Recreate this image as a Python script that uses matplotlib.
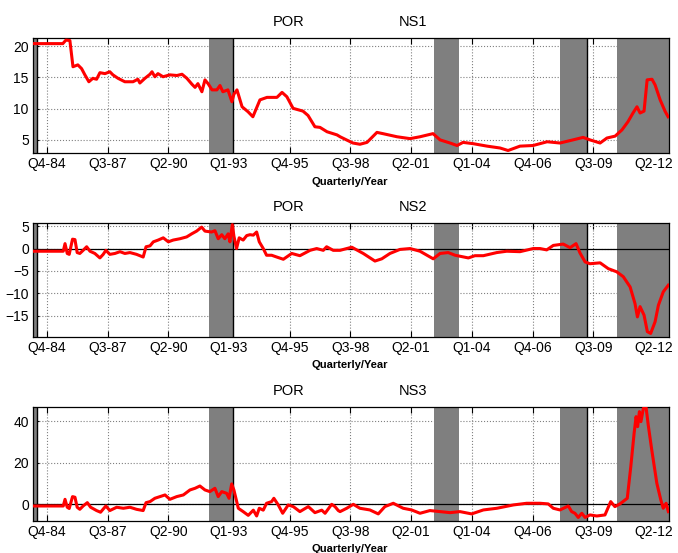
import matplotlib
matplotlib.use('Agg')
import matplotlib.pyplot as plt

plt.rcParams['font.family'] = ['Liberation Sans', 'DejaVu Sans']

# decimal-year dates and values
ns1_t = [1984.12, 1985.47, 1985.61, 1985.79, 1985.93, 1986.15, 1986.32, 1986.47, 1986.65, 1986.83,
         1987.00, 1987.15, 1987.38, 1987.60, 1987.74, 1987.97, 1988.28, 1988.65, 1988.87, 1988.96,
         1989.19, 1989.42, 1989.51, 1989.64, 1989.78, 1990.01, 1990.32, 1990.64, 1990.87, 1991.09,
         1991.32, 1991.46, 1991.59, 1991.77, 1991.91, 1992.05, 1992.23, 1992.45, 1992.59, 1992.72,
         1992.95, 1993.13, 1993.22, 1993.36, 1993.59, 1993.86, 1994.08, 1994.40, 1994.72, 1995.17,
         1995.40, 1995.62, 1995.90, 1996.35, 1996.58, 1996.89, 1997.12, 1997.44, 1997.89, 1998.03,
         1998.61, 1998.93, 1999.25, 1999.70, 1999.97, 2000.61, 2001.20, 2001.65, 2002.24, 2002.56,
         2003.01, 2003.33, 2003.60, 2004.05, 2004.69, 2005.28, 2005.64, 2006.18, 2006.77, 2007.41,
         2007.99, 2008.58, 2009.04, 2009.35, 2009.81, 2010.12, 2010.49, 2010.80, 2011.07, 2011.30,
         2011.48, 2011.62, 2011.80, 2011.94, 2012.16, 2012.30, 2012.53, 2012.75, 2012.89]
ns1_v = [20.4, 20.4, 20.96, 20.9, 16.7, 17.0, 16.4, 15.4, 14.3, 14.85,
         14.7, 15.75, 15.6, 15.9, 15.4, 14.85, 14.3, 14.3, 14.7, 14.1,
         14.85, 15.5, 15.9, 15.1, 15.6, 15.1, 15.4, 15.3, 15.5, 14.85,
         13.9, 13.4, 14.0, 12.7, 14.6, 14.0, 13.0, 13.0, 13.7, 12.7,
         13.0, 11.1, 12.3, 13.0, 10.3, 9.5, 8.7, 11.4, 11.8, 11.8,
         12.6, 11.9, 10.05, 9.6, 8.9, 7.1, 7.0, 6.3, 5.8, 5.5,
         4.5, 4.3, 4.6, 6.2, 6.0, 5.5, 5.2, 5.5, 6.0, 5.0,
         4.5, 4.1, 4.6, 4.4, 4.0, 3.7, 3.3, 4.0, 4.1, 4.7,
         4.5, 5.0, 5.4, 5.0, 4.5, 5.3, 5.6, 6.6, 7.9, 9.3,
         10.3, 9.3, 9.6, 14.6, 14.7, 13.8, 11.4, 9.6, 8.7]

ns2_t = [1984.12, 1985.49, 1985.57, 1985.67, 1985.76, 1985.91, 1986.02, 1986.12, 1986.24, 1986.39,
         1986.55, 1986.70, 1986.92, 1987.15, 1987.30, 1987.42, 1987.60, 1987.83, 1988.06, 1988.28,
         1988.51, 1988.81, 1989.11, 1989.24, 1989.42, 1989.57, 1989.79, 1990.02, 1990.25, 1990.47,
         1990.78, 1991.08, 1991.31, 1991.53, 1991.76, 1991.91, 1992.21, 1992.36, 1992.51, 1992.67,
         1992.81, 1992.96, 1993.04, 1993.15, 1993.22, 1993.34, 1993.46, 1993.64, 1993.80, 1993.95,
         1994.10, 1994.25, 1994.37, 1994.55, 1994.70, 1994.93, 1995.16, 1995.46, 1995.84, 1996.21,
         1996.67, 1996.97, 1997.27, 1997.42, 1997.72, 1998.03, 1998.56, 1999.08, 1999.61, 1999.92,
         2000.29, 2000.74, 2001.20, 2001.65, 2002.25, 2002.56, 2002.93, 2003.24, 2003.84, 2004.14,
         2004.52, 2005.13, 2005.58, 2006.18, 2006.78, 2007.09, 2007.39, 2007.69, 2008.14, 2008.45,
         2008.72, 2008.90, 2009.13, 2009.35, 2009.81, 2010.18, 2010.56, 2010.86, 2011.17, 2011.39,
         2011.50, 2011.62, 2011.80, 2011.95, 2012.10, 2012.30, 2012.45, 2012.67, 2012.90]
ns2_v = [-0.6, -0.6, 1.1, -1.1, -1.3, 2.1, 2.0, -0.9, -1.1, -0.4,
         0.4, -0.6, -1.1, -2.1, -1.3, -0.4, -1.3, -1.1, -0.7, -1.1,
         -0.9, -1.3, -1.9, 0.4, 0.6, 1.5, 1.9, 2.4, 1.5, 1.9,
         2.2, 2.6, 3.3, 3.9, 4.8, 3.9, 3.7, 4.0, 2.2, 3.1,
         2.2, 3.3, 1.5, 5.35, 2.8, 0.0, 2.4, 1.9, 2.9, 3.1,
         3.0, 3.7, 1.5, 0.0, -1.5, -1.5, -1.9, -2.4, -1.1, -1.6,
         -0.4, 0.0, -0.4, 0.4, -0.4, -0.4, 0.3, -1.1, -2.8, -2.3,
         -1.1, -0.2, 0.0, -0.6, -2.3, -1.1, -0.9, -1.5, -2.1, -1.6,
         -1.6, -0.9, -0.6, -0.7, 0.0, 0.0, -0.3, 0.7, 1.0, 0.2,
         1.1, -1.0, -3.0, -3.4, -3.2, -4.5, -5.2, -6.3, -8.6, -12.3,
         -15.3, -13.0, -14.9, -18.6, -19.0, -16.4, -12.7, -9.7, -8.2]

ns3_t = [1984.12, 1985.49, 1985.57, 1985.67, 1985.76, 1985.91, 1986.02, 1986.12, 1986.24, 1986.39,
         1986.58, 1986.73, 1987.00, 1987.18, 1987.33, 1987.42, 1987.60, 1987.91, 1988.21, 1988.51,
         1988.81, 1989.11, 1989.24, 1989.42, 1989.64, 1989.87, 1990.10, 1990.32, 1990.63, 1990.93,
         1991.23, 1991.46, 1991.68, 1991.91, 1992.13, 1992.36, 1992.51, 1992.67, 1992.89, 1993.00,
         1993.12, 1993.22, 1993.42, 1993.64, 1993.87, 1994.10, 1994.25, 1994.37, 1994.55, 1994.70,
         1994.93, 1995.03, 1995.23, 1995.43, 1995.68, 1995.91, 1996.21, 1996.59, 1996.89, 1997.20,
         1997.35, 1997.65, 1997.80, 1997.95, 1998.03, 1998.33, 1998.63, 1998.93, 1999.38, 1999.76,
         2000.06, 2000.44, 2000.89, 2001.27, 2001.65, 2002.10, 2002.56, 2003.01, 2003.46, 2003.99,
         2004.52, 2005.13, 2005.88, 2006.48, 2007.09, 2007.46, 2007.69, 2007.99, 2008.37, 2008.52,
         2008.67, 2008.82, 2008.98, 2009.13, 2009.35, 2009.66, 2010.03, 2010.29, 2010.48, 2010.71,
         2011.04, 2011.20, 2011.35, 2011.44, 2011.51, 2011.59, 2011.66, 2011.77, 2011.89, 2011.99,
         2012.15, 2012.38, 2012.56, 2012.67, 2012.80, 2012.90]
ns3_v = [-0.8, -0.8, 2.4, -1.4, -2.0, 3.7, 3.4, -1.4, -2.4, -0.8,
         0.8, -1.4, -3.0, -3.8, -1.9, -0.8, -3.0, -1.4, -1.9, -1.4,
         -2.4, -3.0, 0.8, 1.3, 2.9, 3.7, 4.5, 2.4, 3.7, 4.5,
         6.9, 7.7, 8.8, 6.9, 6.1, 7.7, 3.7, 6.1, 5.3, 2.9,
         9.8, 6.9, -1.9, -3.5, -5.3, -2.8, -5.6, -1.9, -2.8, 0.5,
         1.3, 2.9, -0.3, -4.3, -0.3, -1.1, -3.5, -1.1, -4.0, -2.8,
         -4.3, 0.0, -1.1, -3.0, -3.5, -1.9, 0.0, -1.9, -2.7, -4.6,
         -1.1, 0.5, -1.9, -2.7, -4.3, -3.0, -3.5, -4.0, -3.5, -4.6,
         -2.7, -1.9, -0.3, 0.5, 0.5, 0.2, -1.9, -2.7, -0.8, -3.5,
         -4.3, -6.3, -4.3, -6.3, -5.1, -5.6, -5.1, 1.3, -1.1, 0.2,
         2.9, 18.1, 34.1, 42.1, 37.3, 44.5, 39.7, 46.1, 46.7, 38.1,
         26.1, 10.1, 2.1, -1.9, 0.5, -3.5]

# shaded periods and break lines
bands = [(1984.0, 1984.28), (1992.10, 1993.19), (2002.30, 2003.42), (2007.99, 2009.23), (2010.59, 2013.5)]
breaks = [1984.28, 1993.19, 2009.23]

tick_pos = [1984.75, 1987.5, 1990.25, 1993.0, 1995.75, 1998.5, 2001.25, 2004.0, 2006.75, 2009.5, 2012.25]
tick_lab = ['Q4-84', 'Q3-87', 'Q2-90', 'Q1-93', 'Q4-95', 'Q3-98', 'Q2-01', 'Q1-04', 'Q4-06', 'Q3-09', 'Q2-12']

panels = [
    ('NS1', ns1_t, ns1_v, (2.9, 21.3), [5, 10, 15, 20], False),
    ('NS2', ns2_t, ns2_v, (-19.8, 5.7), [-15, -10, -5, 0, 5], True),
    ('NS3', ns3_t, ns3_v, (-8.0, 46.7), [0, 20, 40], True),
]
rects = [[0.0487, 0.7233, 0.938, 0.208],
         [0.0487, 0.3906, 0.938, 0.206],
         [0.0487, 0.0579, 0.938, 0.206]]

fig = plt.figure(figsize=(6.78, 5.53), dpi=100)

for (name, t, v, ylim, yt, zero), r in zip(panels, rects):
    ax = fig.add_axes(r)
    ax.set_axisbelow(True)
    ax.grid(True, linestyle=':', color='#808080', linewidth=0.8)
    for a, b in bands:
        ax.axvspan(a, b, color='#7f7f7f', zorder=1, linewidth=0)
    for b in breaks:
        ax.axvline(b, color='black', linewidth=1.0, zorder=2)
    if zero:
        ax.axhline(0, color='black', linewidth=0.9, zorder=2)
    ax.plot(t, v, color='red', linewidth=2.2, zorder=3)
    ax.set_xlim(1984.12, 2012.93)
    ax.set_ylim(*ylim)
    ax.set_xticks(tick_pos)
    ax.set_xticklabels(tick_lab)
    ax.set_yticks(yt)
    ax.tick_params(direction='in', top=True, right=True, labelsize=10, pad=3, length=4)
    for s in ax.spines.values():
        s.set_linewidth(0.9)
    ax.text(0.4025, 1.14, 'POR', transform=ax.transAxes, ha='center', va='center', fontsize=10.5)
    ax.text(0.597, 1.14, name, transform=ax.transAxes, ha='center', va='center', fontsize=10.5)
    ax.text(0.498, -0.25, 'Quarterly/Year', transform=ax.transAxes, ha='center', va='center',
            fontsize=8, fontweight='bold')

fig.savefig('out.png', dpi=100)
